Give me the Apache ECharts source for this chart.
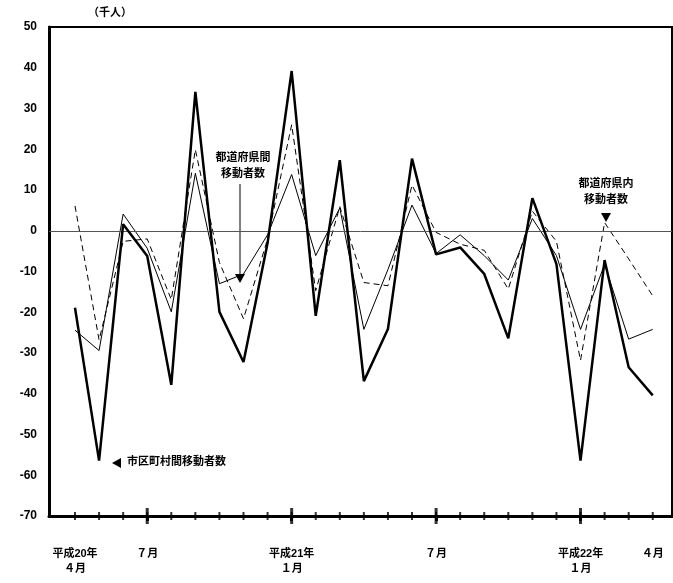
<!DOCTYPE html>
<html><head><meta charset="utf-8">
<script src="https://cdn.jsdelivr.net/npm/echarts@6/dist/echarts.min.js"></script>
<style>html,body{margin:0;padding:0;background:#fff}#c{width:673px;height:583px}</style>
</head><body><div id="c"></div>
<script>
const months = [0,1,2,3,4,5,6,7,8,9,10,11,12,13,14,15,16,17,18,19,20,21,22,23,24];
const total = [-18.9,-56.4,1.6,-6.2,-37.8,34.1,-19.9,-32.2,-3,39.2,-20.9,17.3,-36.9,-24.1,17.7,-5.8,-4.1,-10.6,-26.4,8.0,-8.2,-56.4,-7.2,-33.5,-40.4];
const inter = [-24.4,-29.4,4.1,-4.3,-19.9,14.1,-13,-10.6,-1,13.8,-6.1,5.6,-24.2,-9.5,6.3,-5.6,-1,-6.1,-12.1,3.0,-6.1,-24.2,-8.2,-26.6,-24.2];
const intra = [6.1,-26.8,-2.6,-2.0,-16.9,19.9,-7.8,-21.6,-2,26,-14.7,5.9,-12.7,-13.5,11.2,-0.4,-3.3,-4.8,-14.3,4.8,-2.6,-31.8,2.0,-6.9,-16];
const labelPos = [0,3,9,15,21,24];
const majorTicks = [3,9,15,21];
const labelText = {0:'平成20年\n４月',3:'７月',9:'平成21年\n１月',15:'７月',21:'平成22年\n１月',24:'４月'};
const pair = a => months.map((m,i)=>[m,a[i]]);
const font = '"Liberation Sans","Noto Sans CJK JP",sans-serif';
const chart = echarts.init(document.getElementById('c'));
chart.setOption({
  animation:false,
  grid:{left:49,right:1,top:27,bottom:67,show:true,borderColor:'#000',borderWidth:2},
  xAxis:{type:'value',min:-1.08,max:24.8,
      axisLine:{show:true,onZero:false,lineStyle:{color:'#000',width:3}},
      axisTick:{show:true,length:5,customValues:majorTicks,lineStyle:{color:'#000',width:3}},
      axisLabel:{customValues:labelPos,formatter:v=>labelText[v]||'',color:'#000',fontSize:11,fontWeight:'bold',fontFamily:font,margin:30,lineHeight:15},
      splitLine:{show:false}},
  yAxis:{type:'value',min:-70,max:50,interval:10,
    axisLine:{show:true,onZero:false,lineStyle:{color:'#000',width:3}},axisTick:{show:false},
    axisLabel:{color:'#000',fontSize:12,fontFamily:font,fontWeight:'bold',margin:12},
    splitLine:{show:false}},
  series:[
    {type:'line',data:pair(total),symbol:'none',lineStyle:{color:'#000',width:2.5},z:5,
      markLine:{silent:true,symbol:'none',label:{show:false},lineStyle:{color:'#555',width:1,type:'solid'},data:[{yAxis:0}]}},
    {type:'line',data:pair(inter),symbol:'none',lineStyle:{color:'#000',width:1}},
    {type:'line',data:pair(intra),symbol:'none',lineStyle:{color:'#000',width:1,type:[6,4]}},
    {type:'scatter',data:months.map(m=>[m,-70]),symbol:'rect',symbolSize:[2,8],itemStyle:{color:'#000'},silent:true,z:6},
    {type:'scatter',data:majorTicks.map(m=>[m,-70]),symbol:'rect',symbolSize:[3,16],itemStyle:{color:'#000'},silent:true,z:6}
  ],
  graphic:[
    {type:'text',left:88,top:7,style:{text:'（千人）',font:'bold 11px '+font,fill:'#000'}},
    {type:'text',x:243,y:150,style:{text:'都道府県間\n移動者数',font:'bold 11px '+font,fill:'#000',align:'center',lineHeight:16}},
    {type:'line',shape:{x1:240,y1:184,x2:240,y2:275},style:{stroke:'#000',lineWidth:1}},
    {type:'polygon',shape:{points:[[235,274],[245,274],[240,283]]},style:{fill:'#000'}},
    {type:'text',x:606,y:176,style:{text:'都道府県内\n移動者数',font:'bold 11px '+font,fill:'#000',align:'center',lineHeight:16}},
    {type:'polygon',shape:{points:[[601,213],[611,213],[606,222]]},style:{fill:'#000'}},
    {type:'polygon',shape:{points:[[112,463],[121,458],[121,468]]},style:{fill:'#000'}},
    {type:'text',x:127,y:456,style:{text:'市区町村間移動者数',font:'bold 11px '+font,fill:'#000'}}
  ]
});
</script></body></html>
